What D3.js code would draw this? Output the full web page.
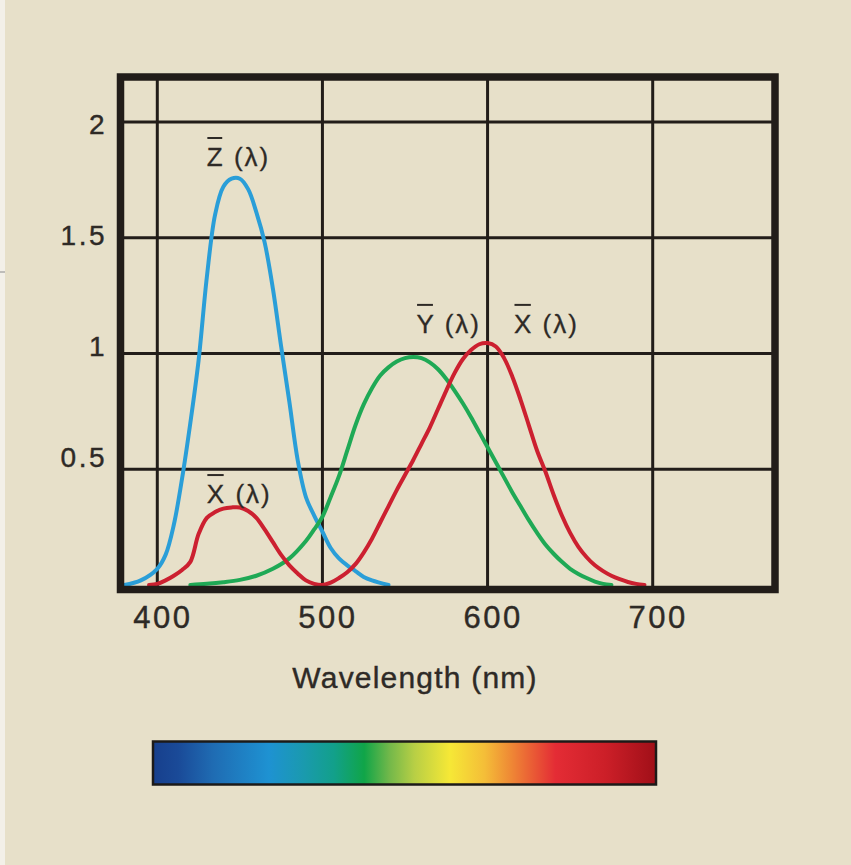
<!DOCTYPE html>
<html><head><meta charset="utf-8">
<script src="https://cdn.jsdelivr.net/npm/d3@7"></script>
<style>
html,body{margin:0;padding:0;background:#e7e0c9;}
svg{display:block;}
</style></head>
<body>
<svg id="chart" width="851" height="865"></svg>
<script>
// ---- data ----
const xTicks = [400, 500, 600, 700];
const yTicks = [0.5, 1, 1.5, 2];
const axisTitle = "Wavelength (nm)";

const zNm  = [380,390,400,405,410,415,420,425,430,435,440,445,450,455,460,465,470,475,480,485,490,495,500,505,510,515,520,525,530,540];
const zVal = [0,0.02,0.07,0.13,0.26,0.46,0.70,0.97,1.33,1.60,1.72,1.755,1.755,1.71,1.61,1.48,1.28,1.03,0.79,0.54,0.38,0.30,0.23,0.16,0.115,0.085,0.06,0.035,0.02,0];

const yNm  = [420,430,440,450,460,470,480,490,495,500,505,510,515,520,525,530,535,540,545,550,555,560,565,570,575,580,585,590,595,600,605,610,615,620,625,630,635,640,645,650,655,660,665,670,675];
const yVal = [0,0.005,0.012,0.022,0.04,0.07,0.115,0.19,0.24,0.295,0.38,0.47,0.58,0.69,0.78,0.85,0.905,0.94,0.965,0.98,0.985,0.98,0.962,0.932,0.89,0.84,0.785,0.725,0.66,0.595,0.53,0.465,0.40,0.34,0.28,0.225,0.175,0.135,0.10,0.07,0.048,0.03,0.015,0.005,0];

const xNm  = [395,400,405,410,415,420,425,430,435,440,445,450,455,460,465,470,475,480,485,490,495,500,505,510,515,520,525,530,535,540,545,550,555,560,565,570,575,580,585,590,595,600,605,610,615,620,625,630,635,640,645,650,655,660,665,670,675,680,685,690,695];
const xVal = [0,0.005,0.02,0.04,0.065,0.10,0.22,0.29,0.315,0.33,0.335,0.335,0.32,0.29,0.24,0.185,0.13,0.085,0.05,0.02,0.005,0,0.01,0.03,0.055,0.09,0.14,0.2,0.27,0.34,0.41,0.475,0.54,0.61,0.68,0.76,0.84,0.915,0.975,1.015,1.04,1.045,1.03,0.98,0.90,0.80,0.69,0.58,0.49,0.39,0.30,0.225,0.165,0.12,0.085,0.06,0.04,0.025,0.013,0.005,0];

const curveLabelLetters = ["Z", "X", "Y", "X"];
const curveLabelNm  = [430, 430, 557, 616];
const curveLabelVal = [1.81, 0.354, 1.089, 1.089];

const spectrumOffsets = [0, 0.05, 0.12, 0.23, 0.30, 0.36, 0.42, 0.47, 0.52, 0.59, 0.66, 0.71, 0.80, 0.90, 1];
const spectrumColors  = ["#173f8c","#1a4a98","#1f6cb3","#1e92d2","#1a9aae","#12a08a","#10a548","#72b84a","#b8cf45","#f6e836","#f4bd38","#ef8a35","#e42c35","#cc1f28","#a00f18"];

// ---- chart ----
const svg = d3.select("#chart");
const x = d3.scaleLinear().domain([400, 700]).range([157.3, 652.7]);
const y = d3.scaleLinear().domain([0, 2]).range([585, 122]);

const box = {left: 120.5, right: 775, top: 77, bottom: 589.5};
const ink = "#221d19";
const textCol = "#2e2a26";
const font = "'Liberation Sans', Arial, sans-serif";

// left light strip
svg.append("rect").attr("x",0).attr("y",0).attr("width",5).attr("height",865).attr("fill","#f3f0e8");
svg.append("line").attr("x1",0).attr("x2",5).attr("y1",272).attr("y2",272).attr("stroke","#8a8a8a").attr("stroke-width",1);

// grid
const grid = svg.append("g");
grid.selectAll(".vg").data(xTicks).join("line")
  .attr("x1", d => x(d)).attr("x2", d => x(d))
  .attr("y1", box.top).attr("y2", box.bottom)
  .attr("stroke", ink).attr("stroke-width", 3);
grid.selectAll(".hg").data(yTicks).join("line")
  .attr("y1", d => y(d)).attr("y2", d => y(d))
  .attr("x1", box.left).attr("x2", box.right)
  .attr("stroke", ink).attr("stroke-width", 3);

// curves
const line = d3.line().x(d => x(d[0])).y(d => y(Math.max(0, d[1]))).curve(d3.curveCatmullRom.alpha(0.5));
const series = [
  {nm: zNm, v: zVal, color: "#2a9ed8"},
  {nm: yNm, v: yVal, color: "#1fa955"},
  {nm: xNm, v: xVal, color: "#cc2030"}
];
svg.append("g").selectAll("path").data(series).join("path")
  .attr("d", s => line(s.nm.map((n, i) => [n, s.v[i]])))
  .attr("fill", "none").attr("stroke", s => s.color)
  .attr("stroke-width", 4).attr("stroke-linejoin","round").attr("stroke-linecap","round");

// frame
svg.append("rect")
  .attr("x", box.left).attr("y", box.top)
  .attr("width", box.right - box.left).attr("height", box.bottom - box.top)
  .attr("fill", "none").attr("stroke", ink).attr("stroke-width", 7.5);

// x axis labels
const gx = svg.append("g").attr("transform", `translate(0,${y(0)})`)
  .call(d3.axisBottom(x).tickValues(xTicks).tickSize(0).tickPadding(0).tickFormat(d3.format("d")));
gx.select(".domain").remove();
gx.selectAll("text").attr("y", 43).attr("dy", 0).attr("dx", 5)
  .attr("font-family", font).attr("font-size", 31).attr("letter-spacing", 2.5)
  .attr("fill", textCol).attr("stroke", textCol).attr("stroke-width", 0.4);

// y axis labels
const gy = svg.append("g").attr("transform", `translate(107,0)`)
  .call(d3.axisLeft(y).tickValues(yTicks).tickSize(0).tickPadding(0).tickFormat(d => String(d)));
gy.select(".domain").remove();
gy.selectAll("text").attr("y", d => 1 - (2 - d) * 9.5).attr("dy", "0.36em")
  .attr("font-family", font).attr("font-size", 28).attr("letter-spacing", 2.5)
  .attr("fill", textCol).attr("stroke", textCol).attr("stroke-width", 0.4);

// axis title
svg.append("text").attr("x", 415).attr("y", 688).attr("text-anchor", "middle")
  .attr("font-family", font).attr("font-size", 30).attr("letter-spacing", 1.2)
  .attr("fill", textCol).attr("stroke", textCol).attr("stroke-width", 0.4)
  .text(axisTitle);

// curve labels with overline
const lbl = svg.append("g");
curveLabelLetters.forEach((L, i) => {
  const tx = x(curveLabelNm[i]), ty = y(curveLabelVal[i]);
  const t = lbl.append("text").attr("x", tx).attr("y", ty)
    .attr("font-family", font).attr("font-size", 26).attr("letter-spacing", 2)
    .attr("fill", textCol).attr("stroke", textCol).attr("stroke-width", 0.3)
    .text(L + " (λ)");
  const w = t.node().getSubStringLength(0, 1) - 2;
  lbl.append("line").attr("x1", tx + 0.5).attr("x2", tx + w - 0.5)
    .attr("y1", ty - 28).attr("y2", ty - 28)
    .attr("stroke", textCol).attr("stroke-width", 2);
});

// spectrum bar
const defs = svg.append("defs");
const grad = defs.append("linearGradient").attr("id", "spec").attr("x1","0%").attr("x2","100%");
grad.selectAll("stop").data(spectrumOffsets).join("stop")
  .attr("offset", d => d).attr("stop-color", (d, i) => spectrumColors[i]);
svg.append("rect").attr("x", 153).attr("y", 741.5).attr("width", 503).attr("height", 43)
  .attr("fill", "url(#spec)").attr("stroke", "#1c1a18").attr("stroke-width", 2.5);
</script>
</body></html>
